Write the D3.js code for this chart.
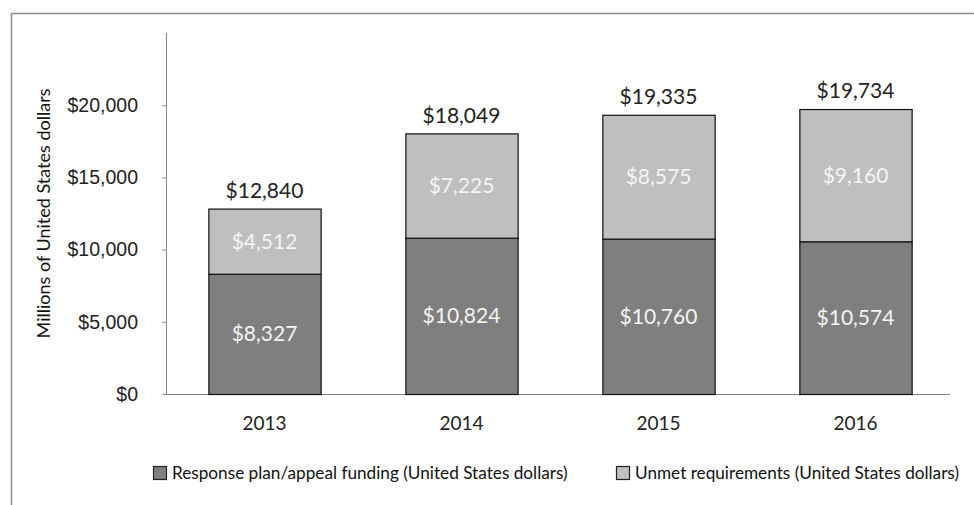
<!DOCTYPE html>
<meta charset="utf-8">
<style>

body {
  margin: 0;
  background: #fff;
  font-family: Lato, "Open Sans", sans-serif;
}

.axis path, .axis line {
  stroke: #868686;
}

.axis text {
  fill: #222;
}

</style>
<svg width="974" height="505"></svg>
<script src="https://d3js.org/d3.v7.min.js"></script>
<script>

var years = ["2013", "2014", "2015", "2016"];
var funding = [8327, 10824, 10760, 10574];
var unmet = [4512, 7225, 8575, 9160];
var totals = [12840, 18049, 19335, 19734];
var yTicks = [0, 5000, 10000, 15000, 20000];
var seriesNames = ["Response plan/appeal funding (United States dollars)", "Unmet requirements (United States dollars)"];

var svg = d3.select("svg"),
    plotLeft = 166, plotRight = 954, plotTop = 33, plotBottom = 394;

var colors = ["#7f7f7f", "#bfbfbf"];
var fmt = d3.format("$,");

// outer frame (bottom and right are cut off in the picture)
svg.append("path")
    .attr("d", "M11.5,505V13.5H974")
    .attr("fill", "none")
    .attr("stroke", "#8c8c8c")
    .attr("stroke-width", 1.5);

var x = d3.scaleBand()
    .domain(years)
    .range([plotLeft, plotRight])
    .paddingInner(0.43)
    .paddingOuter(0.215);

var y = d3.scaleLinear()
    .domain([0, 25000])
    .range([plotBottom, plotTop]);

var rows = years.map(function(yr, i) { return {year: yr, funding: funding[i], unmet: unmet[i]}; });
var stack = d3.stack().keys(["funding", "unmet"])(rows);

// y axis
var yAxis = svg.append("g")
    .attr("class", "axis")
    .attr("transform", "translate(" + plotLeft + ",0)")
    .call(d3.axisLeft(y).tickValues(yTicks).tickSize(4).tickPadding(24).tickFormat(fmt).tickSizeOuter(0));
yAxis.select(".domain").attr("d", "M0.5," + plotTop + "V" + (plotBottom + 0.5));
yAxis.selectAll(".tick line").attr("x1", 0.5).attr("x2", -3.5);
yAxis.selectAll("text").style("font-size", "19.5px");

// baseline
svg.append("line")
    .attr("x1", plotLeft).attr("x2", plotRight - 4)
    .attr("y1", y(0) + 0.5).attr("y2", y(0) + 0.5)
    .attr("stroke", "#868686");

// year labels
svg.append("g")
  .selectAll("text")
  .data(years)
  .enter().append("text")
    .attr("x", function(d) { return x(d) + x.bandwidth() / 2; })
    .attr("y", 423)
    .attr("dy", "0.35em")
    .attr("text-anchor", "middle")
    .attr("fill", "#222")
    .style("font-size", "19px")
    .text(function(d) { return d; });

// axis title
svg.append("text")
    .attr("transform", "translate(44," + ((plotTop + plotBottom) / 2) + ") rotate(-90)")
    .attr("dy", "0.35em")
    .attr("text-anchor", "middle")
    .attr("fill", "#111")
    .style("font-size", "18px")
    .text("Millions of United States dollars");

// bars
var layer = svg.selectAll(".layer")
  .data(stack)
  .enter().append("g")
    .attr("class", "layer")
    .attr("fill", function(d, i) { return colors[i]; });

layer.selectAll("rect")
  .data(function(d) { return d; })
  .enter().append("rect")
    .attr("x", function(d) { return x(d.data.year) + 0.5; })
    .attr("y", function(d) { return y(d[1]) + 0.5; })
    .attr("width", x.bandwidth())
    .attr("height", function(d) { return y(d[0]) - y(d[1]); })
    .attr("stroke", "#111")
    .attr("stroke-width", 1.2);

layer.selectAll("text")
  .data(function(d) { return d; })
  .enter().append("text")
    .attr("x", function(d) { return x(d.data.year) + x.bandwidth() / 2; })
    .attr("y", function(d) { return (y(d[0]) + y(d[1])) / 2; })
    .attr("dy", "0.35em")
    .attr("text-anchor", "middle")
    .attr("fill", "#f4f4f4")
    .style("font-size", "21px")
    .text(function(d) { return fmt(d[1] - d[0]); });

// totals above bars
svg.append("g")
  .selectAll("text")
  .data(rows)
  .enter().append("text")
    .attr("x", function(d) { return x(d.year) + x.bandwidth() / 2; })
    .attr("y", function(d) { return y(d.funding + d.unmet) - 18; })
    .attr("dy", "0.35em")
    .attr("text-anchor", "middle")
    .attr("fill", "#222")
    .style("font-size", "21px")
    .text(function(d, i) { return fmt(totals[i]); });

// legend
var legendX = [153, 616];
var legend = svg.append("g")
  .selectAll("g")
  .data(seriesNames)
  .enter().append("g")
    .attr("transform", function(d, i) { return "translate(" + legendX[i] + ",473)"; });

legend.append("rect")
    .attr("x", 0.5).attr("y", -6.5)
    .attr("width", 13).attr("height", 13)
    .attr("fill", function(d, i) { return colors[i]; })
    .attr("stroke", "#222")
    .attr("stroke-width", 1.2);

legend.append("text")
    .attr("x", 19)
    .attr("dy", "0.35em")
    .attr("fill", "#111")
    .style("font-size", "17.2px")
    .text(function(d) { return d; });

</script>
